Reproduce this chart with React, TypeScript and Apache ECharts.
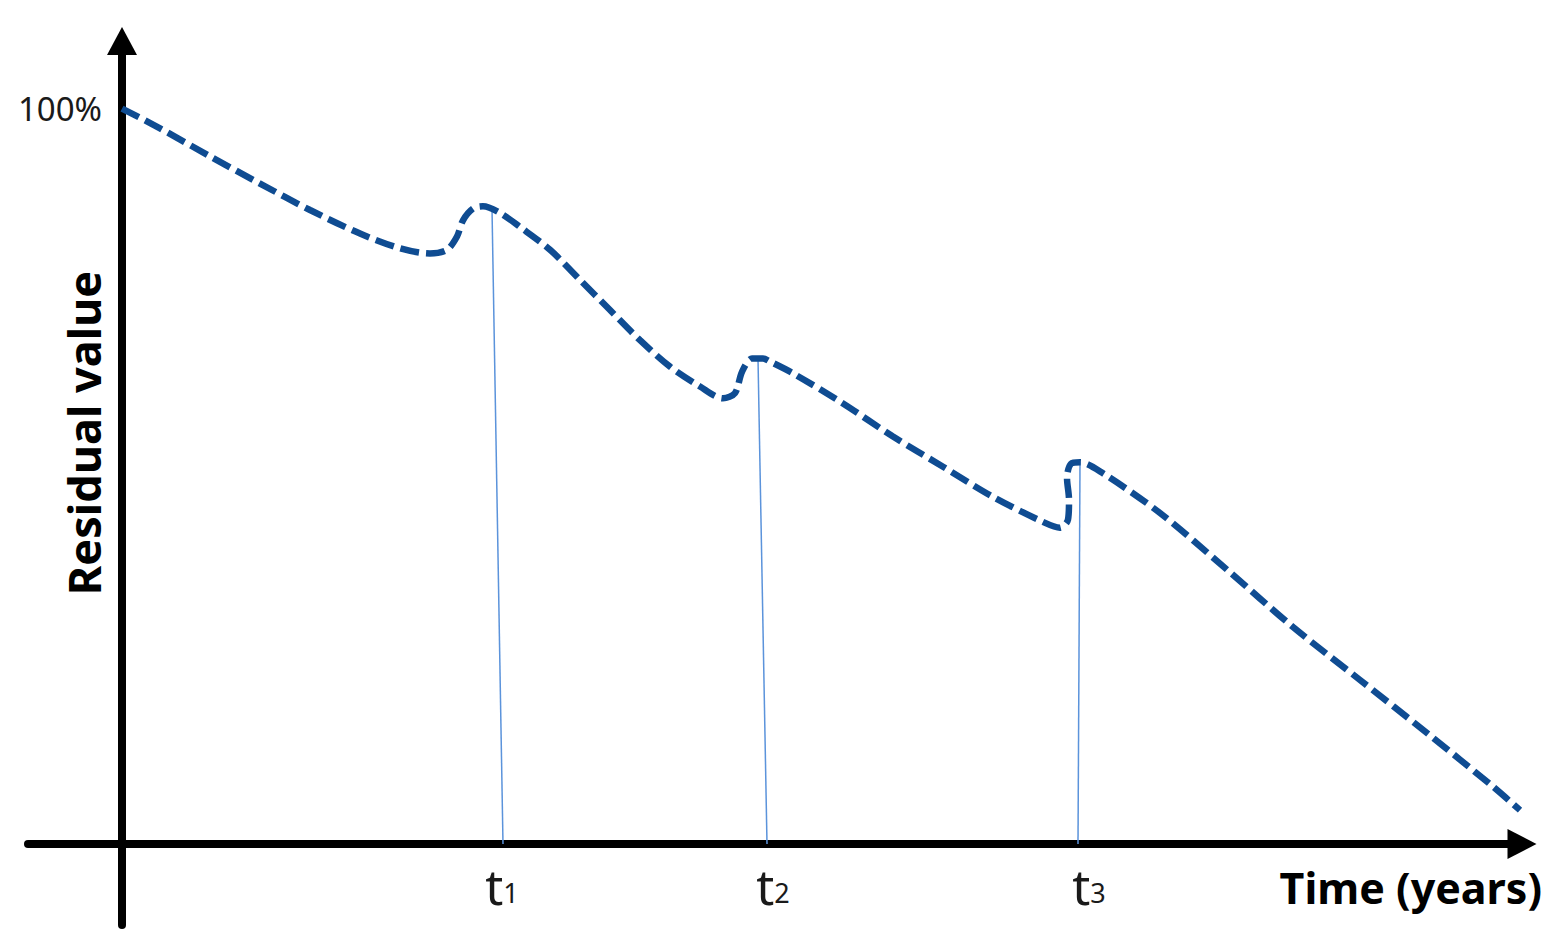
import React, { useEffect, useRef } from "react";
import * as echarts from "echarts";

// Residual value curve (x: time units, y: % of initial value)
const curveX = [0, 0.38, 0.88, 1.38, 1.88, 2.38, 2.78, 3.08, 3.25, 3.35, 3.41, 3.51, 3.61, 3.78, 3.98, 4.28, 4.58, 4.88, 5.18, 5.48, 5.78, 6.01, 6.13, 6.2, 6.3, 6.41, 6.48, 6.71, 7.21, 7.71, 8.21, 8.71, 9.21, 9.38, 9.46, 9.47, 9.45, 9.49, 9.58, 9.81, 10.38, 11.05, 11.71, 12.38, 13.05, 13.71, 13.98];
const curveY = [100, 97.3, 93.5, 89.8, 86.2, 83.0, 81.0, 80.3, 80.8, 82.6, 84.8, 86.4, 86.7, 85.8, 83.9, 80.8, 76.7, 72.6, 68.5, 64.9, 62.2, 60.6, 61.3, 64.2, 66.0, 66.0, 65.6, 64.0, 59.9, 55.4, 51.3, 47.2, 43.8, 43.0, 44.1, 46.8, 49.8, 51.7, 51.9, 50.4, 45.0, 37.3, 29.5, 22.3, 15.1, 7.8, 4.6];

// Thin markers from the curve peaks down to the time axis
const tTopX = [3.7, 6.36, 9.58];
const tTopY = [86.4, 66.0, 51.9];
const tBaseX = [3.81, 6.45, 9.56];

// Time labels t1, t2, t3
const tLabelX = [3.8, 6.51, 9.67];
const tSubs = ["1", "2", "3"];

const yTickValues = [100];

const X_MIN = -0.94;
const X_MAX = 14.0;
const Y_MIN = -11.01;
const Y_MAX = 109.18;

const FONT = "Noto Sans";

export default function App() {
  const ref = useRef<HTMLDivElement>(null);

  useEffect(() => {
    if (!ref.current) return;
    const chart = echarts.init(ref.current, undefined, { renderer: "svg" });

    const curveData = curveX.map((x, i) => [x, curveY[i]]);
    const markerSeries = tTopX.map((x, i) => ({
      type: "line" as const,
      data: [
        [x, tTopY[i]],
        [tBaseX[i], 0],
      ],
      symbol: "none",
      z: 1,
      lineStyle: { color: "#5B93DB", width: 1.5 },
      silent: true,
    }));

    chart.setOption({
      animation: false,
      backgroundColor: "#ffffff",
      grid: {
        left: 28,
        right: 32,
        top: 41,
        bottom: 16,
        containLabel: false,
        outerBoundsMode: "none",
      },
      xAxis: {
        type: "value",
        min: X_MIN,
        max: X_MAX,
        splitLine: { show: false },
        axisTick: { show: false },
        axisLine: {
          show: true,
          onZero: true,
          symbol: ["none", "triangle"],
          symbolSize: [30, 29],
          lineStyle: { color: "#000000", width: 8 },
        },
        axisLabel: {
          show: true,
          customValues: tLabelX,
          margin: -64,
          formatter: (v: number) => {
            const i = tLabelX.findIndex((x) => Math.abs(x - v) < 1e-6);
            if (i < 0) return "";
            return `{t|t}{s|${tSubs[i]}}`;
          },
          rich: {
            t: {
              fontFamily: FONT,
              fontSize: 50,
              lineHeight: 50,
              color: "#1a1a1a",
              verticalAlign: "bottom",
            },
            s: {
              fontFamily: FONT,
              fontSize: 27,
              lineHeight: 27,
              color: "#1a1a1a",
              verticalAlign: "bottom",
              padding: [0, 0, 5, 0],
            },
          },
        },
      },
      yAxis: {
        type: "value",
        min: Y_MIN,
        max: Y_MAX,
        splitLine: { show: false },
        axisTick: { show: false },
        axisLine: {
          show: true,
          onZero: true,
          symbol: ["none", "triangle"],
          symbolSize: [30, 28],
          lineStyle: { color: "#000000", width: 8 },
        },
        axisLabel: {
          show: true,
          customValues: yTickValues,
          formatter: "{value}%",
          margin: -74,
          fontFamily: FONT,
          fontSize: 33,
          color: "#1a1a1a",
        },
      },
      graphic: [
        {
          type: "text",
          x: 1542,
          y: 887,
          style: {
            text: "Time (years)",
            fontFamily: FONT,
            fontWeight: "bold",
            fontSize: 43,
            fill: "#000000",
            textAlign: "right",
            textVerticalAlign: "middle",
          },
        },
        {
          type: "text",
          x: 83,
          y: 433,
          rotation: Math.PI / 2,
          style: {
            text: "Residual value",
            fontFamily: FONT,
            fontWeight: "bold",
            fontSize: 45,
            fill: "#000000",
            textAlign: "center",
            textVerticalAlign: "middle",
          },
        },
      ],
      series: [
        ...markerSeries,
        {
          type: "line",
          data: curveData,
          symbol: "none",
          smooth: 0.3,
          z: 3,
          silent: true,
          lineStyle: {
            color: "#0F4C92",
            width: 6.5,
            type: [19, 7],
            cap: "butt",
          },
        },
      ],
    });

    return () => chart.dispose();
  }, []);

  return (
    <div
      ref={ref}
      style={{ position: "absolute", left: 0, top: 0, width: 1554, height: 941 }}
    />
  );
}
